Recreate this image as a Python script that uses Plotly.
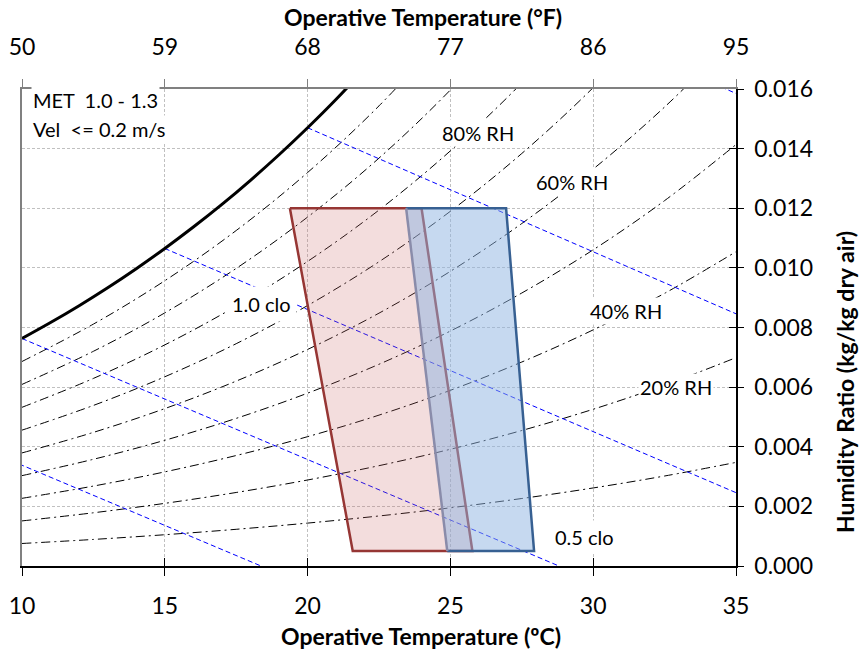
import plotly.graph_objects as go

# ---------------- data ----------------
# saturation curve (100% RH)
t_sat = [10, 11, 12, 13, 14, 15, 16, 17, 18, 19, 20, 21, 22]
w_sat = [0.007632, 0.008166, 0.008732, 0.009334, 0.009973, 0.010651, 0.011369,
         0.012129, 0.012938, 0.013794, 0.014700, 0.015656, 0.016674]

# relative-humidity curves (dash-dot)
t_rh = [10, 12.5, 15, 17.5, 20, 22.5, 25, 27.5, 30, 32.5, 35]
w_rh90 = [0.006860, 0.008114, 0.009569, 0.011253, 0.013198, 0.015434, 0.018020]
w_rh80 = [0.006091, 0.007202, 0.008491, 0.009982, 0.011704, 0.013682, 0.015967, 0.018587]
w_rh70 = [0.005323, 0.006292, 0.007417, 0.008717, 0.010217, 0.011939, 0.013926, 0.016203, 0.018801]
w_rh60 = [0.004557, 0.005386, 0.006347, 0.007457, 0.008737, 0.010205, 0.011899, 0.013837, 0.016046, 0.018567]
w_rh50 = [0.003793, 0.004482, 0.005280, 0.006202, 0.007264, 0.008481, 0.009884, 0.011488, 0.013315, 0.015396, 0.017771]
w_rh40 = [0.003031, 0.003580, 0.004217, 0.004952, 0.005798, 0.006767, 0.007882, 0.009157, 0.010606, 0.012256, 0.014136]
w_rh30 = [0.002270, 0.002681, 0.003157, 0.003706, 0.004338, 0.005061, 0.005893, 0.006842, 0.007921, 0.009147, 0.010542]
w_rh20 = [0.001512, 0.001785, 0.002101, 0.002466, 0.002885, 0.003365, 0.003916, 0.004545, 0.005258, 0.006068, 0.006989]
w_rh10 = [0.000755, 0.000891, 0.001049, 0.001231, 0.001439, 0.001678, 0.001952, 0.002264, 0.002618, 0.003019, 0.003475]
rh_curves = [w_rh90, w_rh80, w_rh70, w_rh60, w_rh50, w_rh40, w_rh30, w_rh20, w_rh10]

# wet-bulb lines (blue dashed): start on saturation, end point
wb_t0 = [5, 10, 15, 20, 25]
wb_w0 = [0.00540, 0.00763, 0.01065, 0.01470, 0.02009]
wb_t1 = [18.37, 28.8, 35, 35, 35]
wb_w1 = [0.0, 0.0, 0.00246, 0.00846, 0.01585]

# comfort zones (TL, TR, BR, BL)
clo10_t = [19.38, 23.99, 25.77, 21.58]
clo10_w = [0.012, 0.012, 0.0005, 0.0005]
clo05_t = [23.45, 26.95, 27.93, 24.89]
clo05_w = [0.012, 0.012, 0.0005, 0.0005]

x_ticks_c = [10, 15, 20, 25, 30, 35]
x_ticks_f = [50, 59, 68, 77, 86, 95]
y_ticks = [0.000, 0.002, 0.004, 0.006, 0.008, 0.010, 0.012, 0.014, 0.016]

# ---------------- figure ----------------
FONT = "Lato"
fig = go.Figure()

for w in rh_curves:
    fig.add_trace(go.Scatter(x=t_rh[:len(w)], y=w, mode="lines",
                             line=dict(color="black", width=1, dash="9px,4px,2px,4px", shape="spline"),
                             showlegend=False, hoverinfo="skip"))

for i in range(len(wb_t0)):
    fig.add_trace(go.Scatter(x=[wb_t0[i], wb_t1[i]], y=[wb_w0[i], wb_w1[i]], mode="lines",
                             line=dict(color="#0000FF", width=1, dash="5px,3px"),
                             showlegend=False, hoverinfo="skip"))

fig.add_trace(go.Scatter(x=t_sat, y=w_sat, mode="lines",
                         line=dict(color="black", width=3, shape="spline"),
                         showlegend=False, hoverinfo="skip"))

# 1.0 clo zone
fig.add_trace(go.Scatter(x=clo10_t + clo10_t[:1], y=clo10_w + clo10_w[:1], mode="lines",
                         fill="toself", fillcolor="rgba(200,100,100,0.22)",
                         line=dict(color="#963634", width=2.5),
                         showlegend=False, hoverinfo="skip"))
# 0.5 clo zone
fig.add_trace(go.Scatter(x=clo05_t + clo05_t[:1], y=clo05_w + clo05_w[:1], mode="lines",
                         fill="toself", fillcolor="rgba(141,180,226,0.5)",
                         line=dict(color="rgba(0,0,0,0)", width=0),
                         showlegend=False, hoverinfo="skip"))
fig.add_trace(go.Scatter(x=clo05_t, y=clo05_w, mode="lines",
                         line=dict(color="#376092", width=2.5),
                         showlegend=False, hoverinfo="skip"))
fig.add_trace(go.Scatter(x=[clo05_t[3], clo05_t[0]], y=[clo05_w[3], clo05_w[0]], mode="lines",
                         line=dict(color="#8A8CAA", width=2.5),
                         showlegend=False, hoverinfo="skip"))

# dummy traces so overlay axes render
fig.add_trace(go.Scatter(x=[None], y=[None], xaxis="x2", yaxis="y", showlegend=False, hoverinfo="skip"))
fig.add_trace(go.Scatter(x=[None], y=[None], xaxis="x3", yaxis="y2", showlegend=False, hoverinfo="skip"))
fig.add_trace(go.Scatter(x=[None], y=[None], xaxis="x", yaxis="y3", showlegend=False, hoverinfo="skip"))

tickfont = dict(family=FONT, size=23, color="black")
fig.update_layout(
    width=860, height=649,
    margin=dict(l=22, r=124, t=89, b=83, autoexpand=False),
    paper_bgcolor="white", plot_bgcolor="white",
    xaxis=dict(range=[10, 35], tickvals=x_ticks_c, ticks="outside", ticklen=8, tickcolor="black",
               showline=True, linecolor="black", linewidth=1.5, zeroline=False,
               showgrid=True, gridcolor="#C0C0C0", griddash="3px,2px", gridwidth=1,
               tickfont=tickfont, ticklabelstandoff=11, automargin=False),
    xaxis2=dict(range=[50, 95], tickvals=x_ticks_f, overlaying="x", side="top", anchor="y",
                ticks="outside", ticklen=8, tickcolor="#808080", showline=True, linecolor="#808080",
                linewidth=1.5, showgrid=False, zeroline=False, tickfont=tickfont, ticklabelstandoff=15,
                automargin=False),
    xaxis3=dict(range=[10, 35], tickvals=x_ticks_c, overlaying="x", side="bottom", anchor="y",
                ticks="inside", ticklen=8, tickcolor="black", showticklabels=False,
                showline=False, showgrid=False, zeroline=False, automargin=False),
    yaxis=dict(range=[0, 0.016], tickvals=y_ticks, tickformat=".3f", side="right",
               ticks="outside", ticklen=6, tickcolor="black", showline=True, linecolor="black",
               linewidth=1.5, zeroline=False,
               showgrid=True, gridcolor="#C0C0C0", griddash="3px,2px", gridwidth=1,
               tickfont=tickfont, ticklabelstandoff=6, automargin=False),
    yaxis2=dict(range=[0, 0.016], tickvals=y_ticks, overlaying="y", side="right", anchor="x",
                ticks="inside", ticklen=7, tickcolor="black", showticklabels=False,
                showline=False, showgrid=False, zeroline=False, automargin=False),
    yaxis3=dict(range=[0, 0.016], overlaying="y", side="left", anchor="x",
                ticks="", showticklabels=False, showline=True, linecolor="#808080", linewidth=1.5,
                showgrid=False, zeroline=False, automargin=False),
)

def ann(text, x, y, size=20, bold=False, anchor="center", angle=0, bg="white", pad=1):
    fig.add_annotation(text=text, x=x, y=y, xref="paper", yref="paper", showarrow=False,
                       xanchor=anchor, yanchor="middle", textangle=angle,
                       font=dict(family=FONT, size=size, color="black",
                                 weight="bold" if bold else "normal"),
                       bgcolor=bg, borderpad=pad)

ann("80% RH", 0.6387, 0.9078)
ann("60% RH", 0.7710, 0.8050)
ann("40% RH", 0.8459, 0.5346)
ann("20% RH", 0.9160, 0.3753)
ann("1.0 clo", 0.3354, 0.5493, pad=5)
ann("0.5 clo", 0.7885, 0.0608, pad=4)
ann("MET&nbsp; 1.0 - 1.3", 0.0126, 0.9769, anchor="left")
ann("Vel&nbsp; <= 0.2 m/s", 0.0126, 0.9161, anchor="left")

ann("Operative Temperature (°F)", 0.5616, 1.151, size=23, bold=True, bg=None)
ann("Operative Temperature (ºC)", 0.5595, -0.1468, size=23, bold=True, bg=None)
ann("Humidity Ratio (kg/kg dry air)", 1.1527, 0.3857, size=23, bold=True, angle=-90, bg=None)

fig.write_html("out.html", config={"displayModeBar": False},
               post_script="document.body.style.margin='0px';")
